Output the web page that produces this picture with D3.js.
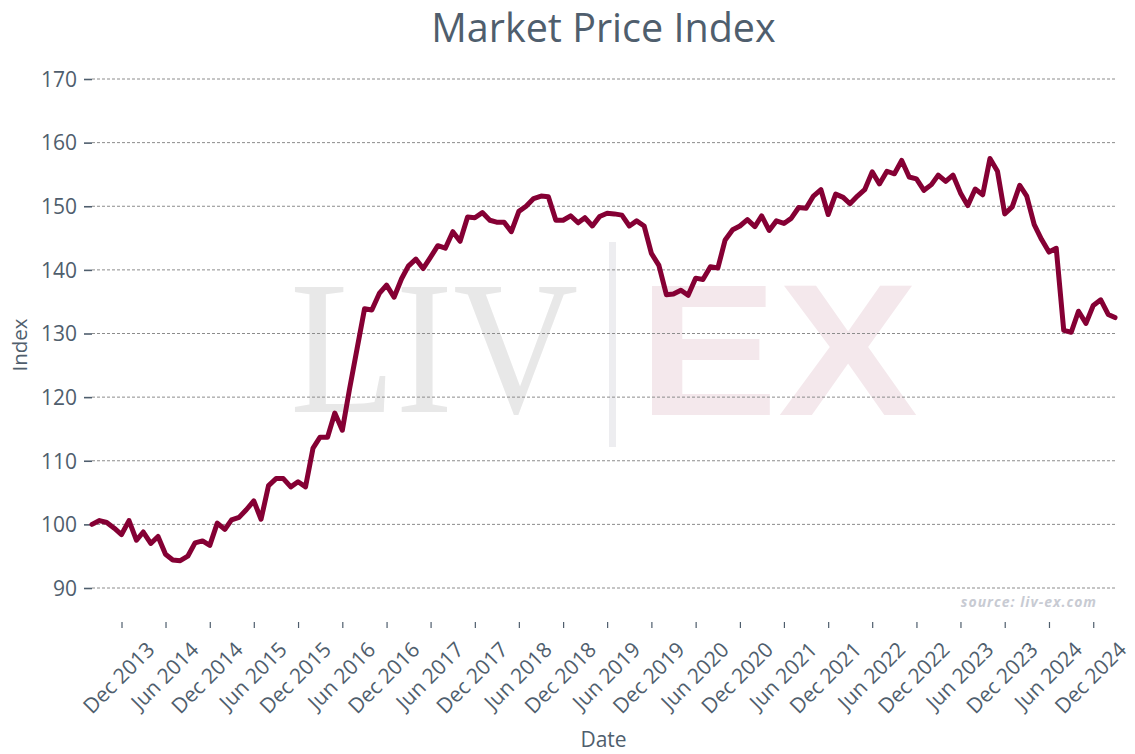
<!DOCTYPE html>
<html>
<head>
<meta charset="utf-8">
<script src="https://cdn.jsdelivr.net/npm/d3@7"></script>
<style>
  html, body { margin: 0; padding: 0; background: #ffffff; }
  svg { display: block; }
</style>
</head>
<body>
<svg id="chart" width="1135" height="754"></svg>
<script>
// ---- data ----
const startMonth = "2013-08";   // first observation (monthly series)
const indexValues = [
  100.0, 100.6, 100.3, 99.4, 98.4, 100.6, 97.5, 98.8, 97.0, 98.1,
  95.3, 94.4, 94.3, 95.0, 97.1, 97.4, 96.7, 100.2, 99.2, 100.7,
  101.1, 102.3, 103.7, 100.8, 106.1, 107.2, 107.2, 105.9, 106.7, 105.9,
  112.0, 113.7, 113.7, 117.5, 114.8, 121.3, 127.6, 133.9, 133.7, 136.3,
  137.6, 135.7, 138.6, 140.6, 141.7, 140.2, 142.0, 143.8, 143.4, 146.0,
  144.5, 148.3, 148.2, 149.0, 147.8, 147.5, 147.5, 146.0, 149.2, 150.0,
  151.2, 151.6, 151.5, 147.8, 147.8, 148.5, 147.4, 148.2, 146.9, 148.4,
  148.9, 148.8, 148.6, 146.9, 147.7, 146.9, 142.6, 140.7, 136.1, 136.2,
  136.8, 136.0, 138.7, 138.5, 140.5, 140.3, 144.7, 146.3, 146.9, 147.9,
  146.8, 148.5, 146.2, 147.7, 147.3, 148.1, 149.8, 149.7, 151.6, 152.6,
  148.7, 151.9, 151.4, 150.4, 151.6, 152.6, 155.4, 153.5, 155.5, 155.1,
  157.2, 154.6, 154.3, 152.5, 153.4, 154.9, 153.9, 154.9, 152.1, 150.1,
  152.7, 151.8, 157.5, 155.5, 148.8, 149.9, 153.3, 151.6, 147.1, 144.8,
  142.8, 143.4, 130.5, 130.2, 133.5, 131.6, 134.4, 135.3, 133.0, 132.5
];
const xTickLabels = [
  "Dec 2013","Jun 2014","Dec 2014","Jun 2015","Dec 2015","Jun 2016",
  "Dec 2016","Jun 2017","Dec 2017","Jun 2018","Dec 2018","Jun 2019",
  "Dec 2019","Jun 2020","Dec 2020","Jun 2021","Dec 2021","Jun 2022",
  "Dec 2022","Jun 2023","Dec 2023","Jun 2024","Dec 2024"
];
const yTickValues = [90, 100, 110, 120, 130, 140, 150, 160, 170];
const titleText = "Market Price Index";
const xTitle = "Date";
const yTitle = "Index";
const sourceText = "source: liv-ex.com";

// ---- build ----
const start = d3.timeParse("%Y-%m")(startMonth);
const series = indexValues.map((v, i) => ({ date: d3.timeMonth.offset(start, i), value: v }));
const tickDates = xTickLabels.map(d3.timeParse("%b %Y"));

const W = 1135, H = 754;
const plot = { left: 92, right: 1115, top: 73, bottom: 617 };
const textColor = "#4f5e6d";
const font = "'Open Sans', 'Noto Sans', sans-serif";

const x = d3.scaleTime()
  .domain(d3.extent(series, d => d.date))
  .range([plot.left, plot.right]);
const y = d3.scaleLinear().domain([90, 170]).range([588, 79]);

const svg = d3.select("#chart");
svg.append("rect").attr("width", W).attr("height", H).attr("fill", "#ffffff");

// watermark
const wm = svg.append("g").attr("class", "watermark");
wm.append("text")
  .attr("x", 290).attr("y", 412)
  .attr("font-family", "'Liberation Serif', 'DejaVu Serif', serif")
  .attr("font-size", 190)
  .attr("textLength", 288).attr("lengthAdjust", "spacingAndGlyphs")
  .attr("fill", "#e8e8e8")
  .text("LIV");
wm.append("rect")
  .attr("x", 609).attr("y", 242).attr("width", 7).attr("height", 205)
  .attr("fill", "#ededf0");
wm.append("text")
  .attr("x", 638).attr("y", 415)
  .attr("font-family", "'Liberation Sans', Arial, sans-serif")
  .attr("font-weight", "bold")
  .attr("font-size", 188)
  .attr("textLength", 280).attr("lengthAdjust", "spacingAndGlyphs")
  .attr("fill", "#f4e8ec")
  .text("EX");

// grid lines
svg.append("g").selectAll("line").data(yTickValues).join("line")
  .attr("x1", plot.left).attr("x2", plot.right)
  .attr("y1", d => y(d)).attr("y2", d => y(d))
  .attr("stroke", "#8c8c8c").attr("stroke-width", 1)
  .attr("stroke-dasharray", "3,2");

// y axis
const yAxis = svg.append("g")
  .attr("transform", `translate(${plot.left},0)`)
  .call(d3.axisLeft(y).tickValues(yTickValues).tickSize(8).tickPadding(7).tickFormat(d3.format("d")));
yAxis.select(".domain").remove();
yAxis.selectAll(".tick line").attr("stroke", textColor).attr("stroke-width", 1.6);
yAxis.selectAll(".tick text")
  .attr("fill", textColor).attr("font-family", font).attr("font-size", 21).attr("dy", "0.35em");

// x axis
const xAxis = svg.append("g")
  .attr("transform", `translate(0,${plot.bottom})`)
  .call(d3.axisBottom(x).tickValues(tickDates).tickSize(0).tickFormat((d, i) => xTickLabels[i]));
xAxis.select(".domain").remove();
xAxis.selectAll(".tick").each(function () {
  const g = d3.select(this);
  g.append("line").attr("y1", 5).attr("y2", 11).attr("stroke", textColor).attr("stroke-width", 1.2);
  g.select("text")
    .attr("fill", textColor).attr("font-family", font).attr("font-size", 21)
    .attr("text-anchor", "end")
    .attr("dy", null).attr("y", null)
    .attr("transform", "translate(34,34) rotate(-45)");
});

// line
svg.append("path")
  .datum(series)
  .attr("fill", "none")
  .attr("stroke", "#850034")
  .attr("stroke-width", 5)
  .attr("stroke-linejoin", "round")
  .attr("stroke-linecap", "round")
  .attr("d", d3.line().x(d => x(d.date)).y(d => y(d.value)));

// title
svg.append("text")
  .attr("x", (plot.left + plot.right) / 2).attr("y", 42)
  .attr("text-anchor", "middle")
  .attr("font-family", font).attr("font-size", 39.5)
  .attr("fill", textColor)
  .text(titleText);

// axis titles
svg.append("text")
  .attr("x", (plot.left + plot.right) / 2).attr("y", 747)
  .attr("text-anchor", "middle")
  .attr("font-family", font).attr("font-size", 21)
  .attr("fill", textColor)
  .text(xTitle);
svg.append("text")
  .attr("transform", `translate(27,${(plot.top + plot.bottom) / 2}) rotate(-90)`)
  .attr("text-anchor", "middle")
  .attr("font-family", font).attr("font-size", 20.5)
  .attr("fill", textColor)
  .text(yTitle);

// source
svg.append("text")
  .attr("x", 1097).attr("y", 607)
  .attr("text-anchor", "end")
  .attr("font-family", font).attr("font-size", 14)
  .attr("font-style", "italic").attr("font-weight", "bold")
  .attr("letter-spacing", 1)
  .attr("fill", "#c8cbd3")
  .text(sourceText);
</script>
</body>
</html>
